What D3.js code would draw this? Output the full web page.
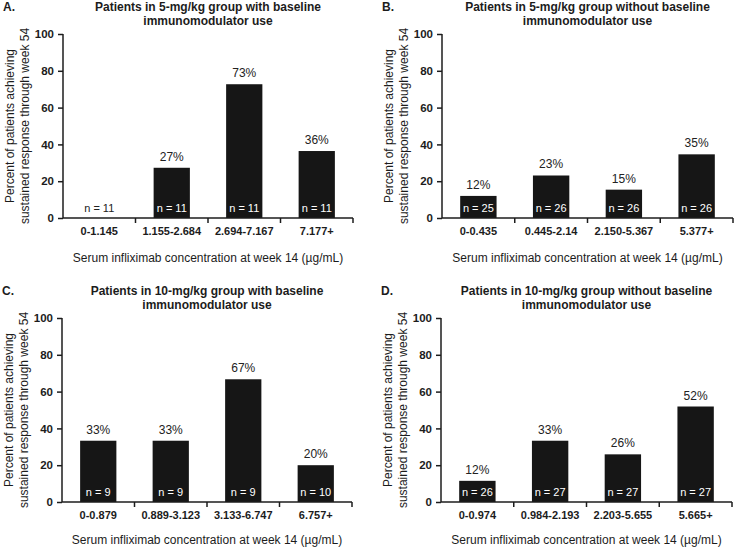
<!DOCTYPE html>
<html><head><meta charset="utf-8">
<script src="https://cdn.jsdelivr.net/npm/d3@7"></script>
<style>
body{margin:0;background:#fff;}
svg{font-family:"Liberation Sans",Arial,Helvetica,sans-serif;}
</style></head>
<body><svg id="chart" width="742" height="548"></svg>
<script>
const panelLetters = ["A.", "B.", "C.", "D."];
const panelTitles = [
  ["Patients in 5-mg/kg group with baseline", "immunomodulator use"],
  ["Patients in 5-mg/kg group without baseline", "immunomodulator use"],
  ["Patients in 10-mg/kg group with baseline", "immunomodulator use"],
  ["Patients in 10-mg/kg group without baseline", "immunomodulator use"]
];
const categoriesA = ["0-1.145", "1.155-2.684", "2.694-7.167", "7.177+"];
const categoriesB = ["0-0.435", "0.445-2.14", "2.150-5.367", "5.377+"];
const categoriesC = ["0-0.879", "0.889-3.123", "3.133-6.747", "6.757+"];
const categoriesD = ["0-0.974", "0.984-2.193", "2.203-5.655", "5.665+"];
const valuesA = [0, 27.3, 72.7, 36.4];
const valuesB = [12, 23.1, 15.4, 34.6];
const valuesC = [33.3, 33.3, 66.7, 20];
const valuesD = [11.5, 33.3, 25.9, 51.9];
const labelsA = ["", "27%", "73%", "36%"];
const labelsB = ["12%", "23%", "15%", "35%"];
const labelsC = ["33%", "33%", "67%", "20%"];
const labelsD = ["12%", "33%", "26%", "52%"];
const nA = ["n = 11", "n = 11", "n = 11", "n = 11"];
const nB = ["n = 25", "n = 26", "n = 26", "n = 26"];
const nC = ["n = 9", "n = 9", "n = 9", "n = 10"];
const nD = ["n = 26", "n = 27", "n = 27", "n = 27"];
const yTicks = [0, 20, 40, 60, 80, 100];
const xAxisTitle = "Serum infliximab concentration at week 14 (\u00b5g/mL)";
const yAxisTitle = ["Percent of patients achieving", "sustained response through week 54"];

const panels = [
  {cats: categoriesA, vals: valuesA, labs: labelsA, ns: nA, x0: 63, x1: 353, top: 34, xt: 44},
  {cats: categoriesB, vals: valuesB, labs: labelsB, ns: nB, x0: 442, x1: 733, top: 34, xt: 44},
  {cats: categoriesC, vals: valuesC, labs: labelsC, ns: nC, x0: 62, x1: 352, top: 318, xt: 42},
  {cats: categoriesD, vals: valuesD, labs: labelsD, ns: nD, x0: 441, x1: 732, top: 318, xt: 42}
];
const svg = d3.select("#chart");
const ink = "#1c1c1c";
const plotH = 184;

panels.forEach((p, i) => {
  const bottom = p.top + plotH;
  const g = svg.append("g");
  const x = d3.scaleBand().domain(p.cats).range([p.x0, p.x1]).paddingInner(0.5).paddingOuter(0.25);
  const y = d3.scaleLinear().domain([0, 100]).range([bottom, p.top]);
  const cx = (p.x0 + p.x1) / 2;

  // letter & title
  g.append("text").attr("x", p.x0 - 60).attr("y", p.top - 23).attr("font-size", 12).attr("font-weight", "bold")
    .attr("fill", ink).text(panelLetters[i]);
  panelTitles[i].forEach((t, k) => {
    g.append("text").attr("x", cx).attr("y", p.top - 23 + k * 14).attr("text-anchor", "middle")
      .attr("font-size", 12).attr("font-weight", "bold").attr("fill", ink).text(t);
  });

  // bars
  g.selectAll("rect.bar").data(p.cats).enter().append("rect")
    .attr("x", d => x(d)).attr("width", x.bandwidth())
    .attr("y", (d, j) => y(p.vals[j])).attr("height", (d, j) => bottom - y(p.vals[j]))
    .attr("fill", "#161616");
  // value labels
  g.selectAll("text.val").data(p.cats).enter().append("text")
    .attr("x", d => x(d) + x.bandwidth() / 2).attr("y", (d, j) => y(p.vals[j]) - 7)
    .attr("text-anchor", "middle").attr("font-size", 12).attr("fill", "#222")
    .text((d, j) => p.labs[j]);
  // n labels
  g.selectAll("text.n").data(p.cats).enter().append("text")
    .attr("x", d => x(d) + x.bandwidth() / 2).attr("y", bottom - 6)
    .attr("text-anchor", "middle").attr("font-size", 11)
    .attr("fill", (d, j) => p.vals[j] > 6 ? "#fff" : "#222")
    .text((d, j) => p.ns[j]);

  // y axis
  const ya = g.append("g").attr("transform", `translate(${p.x0},0)`)
    .call(d3.axisLeft(y).tickValues(yTicks).tickSize(5).tickPadding(4));
  ya.select(".domain").attr("stroke", ink).attr("stroke-width", 1.5).attr("d", `M0,${p.top}V${bottom}`);
  ya.selectAll(".tick line").attr("stroke", ink).attr("stroke-width", 1.5);
  ya.selectAll(".tick text").attr("font-size", 11.5).attr("font-weight", "bold").attr("fill", ink)
    .attr("font-family", "Liberation Sans, Arial, sans-serif");

  // x axis
  const xa = g.append("g").attr("transform", `translate(0,${bottom})`)
    .call(d3.axisBottom(x).tickSize(0).tickPadding(9));
  xa.select(".domain").attr("stroke", ink).attr("stroke-width", 1.5).attr("d", `M${p.x0},0H${p.x1}`);
  xa.selectAll(".tick text").attr("font-size", 11).attr("font-weight", "bold").attr("fill", ink)
    .attr("font-family", "Liberation Sans, Arial, sans-serif");
  const step = x.step();
  const bounds = p.cats.map(c => x(c) - x.bandwidth() / 2 + step);
  xa.selectAll("line.bnd").data(bounds).enter().append("line")
    .attr("x1", d => d).attr("x2", d => d).attr("y1", 0).attr("y2", 5)
    .attr("stroke", ink).attr("stroke-width", 1.5);

  // axis titles
  g.append("text").attr("x", cx).attr("y", bottom + p.xt).attr("text-anchor", "middle")
    .attr("font-size", 12).attr("fill", ink).text(xAxisTitle);
  yAxisTitle.forEach((t, k) => {
    g.append("text").attr("transform", `translate(${p.x0 - 53 + k * 15},${(p.top + bottom) / 2}) rotate(-90)`)
      .attr("text-anchor", "middle").attr("dy", "0.35em").attr("font-size", 12).attr("fill", ink).text(t);
  });
});
</script></body></html>
